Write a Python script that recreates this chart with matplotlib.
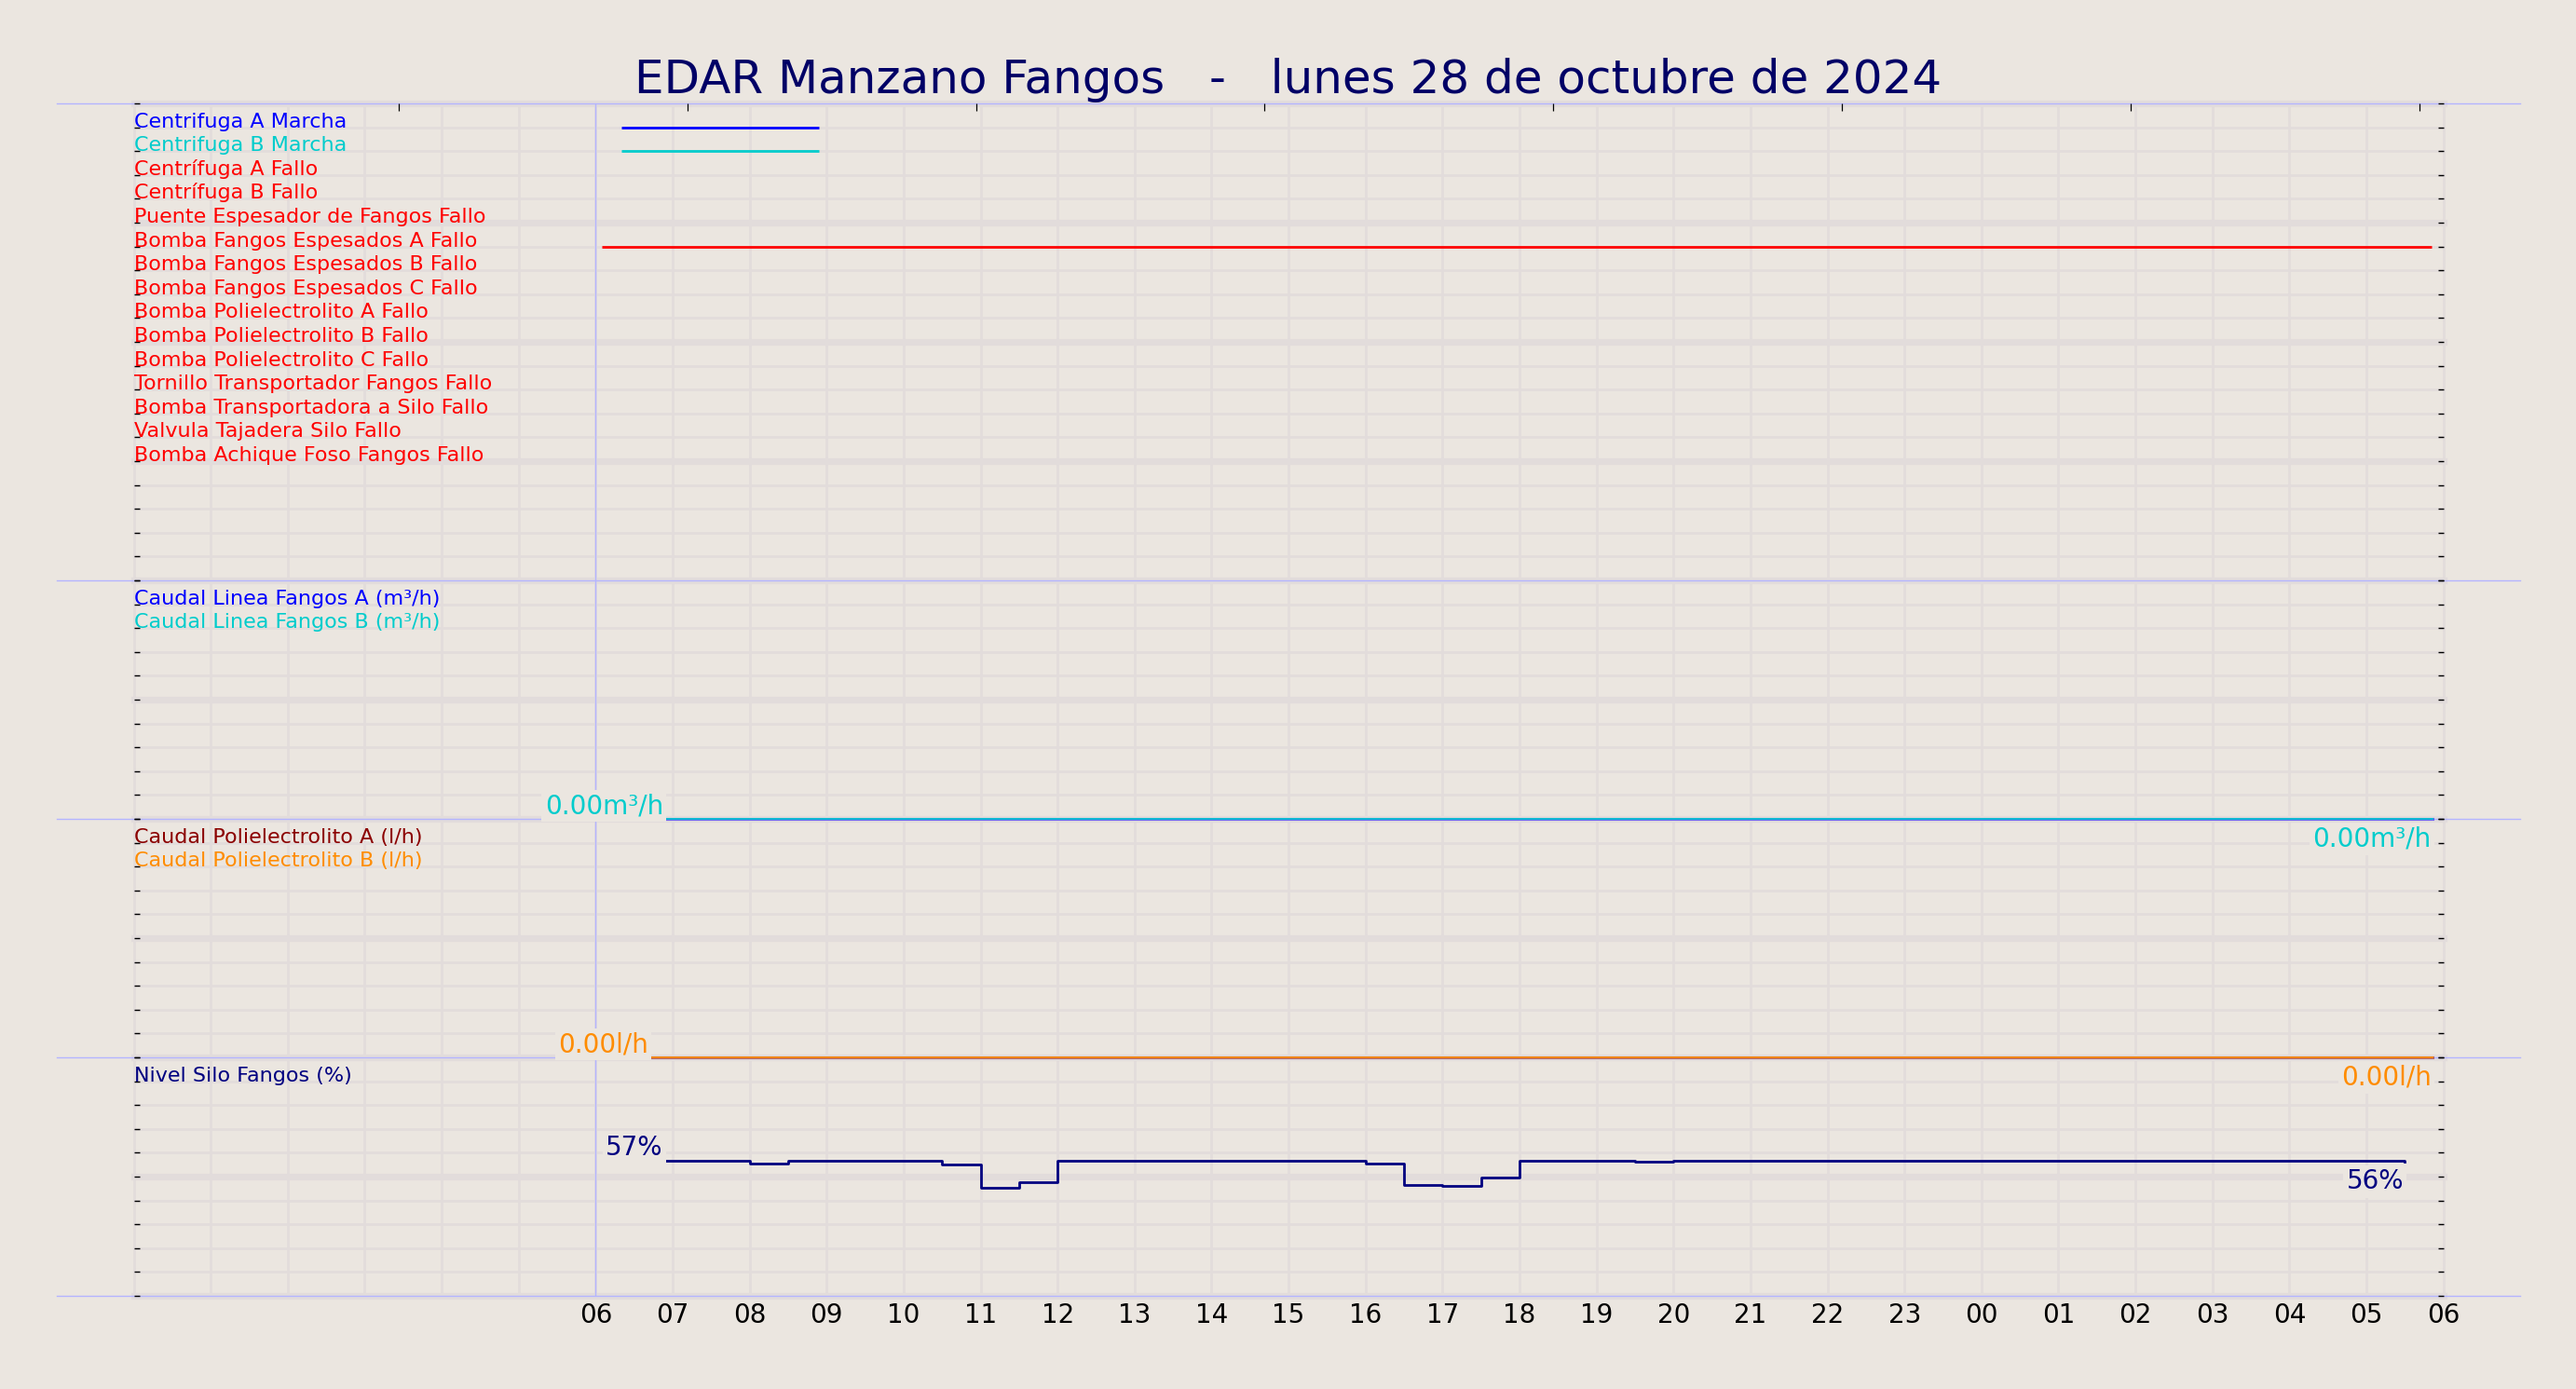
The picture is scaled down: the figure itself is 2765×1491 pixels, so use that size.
"""Panel de señales EDAR Manzano Fangos (28/10/2024), de 06 a 06."""

import matplotlib

matplotlib.use("Agg")
import matplotlib.pyplot as plt
import matplotlib.transforms as mtransforms

TITLE = "EDAR Manzano Fangos   -   lunes 28 de octubre de 2024"

# eje x en horas desde las 00:00 del día 28 (30 h: hasta las 06 del día 29)
HOUR_TICKS = list(range(6, 31))
HOUR_LABELS = ["06", "07", "08", "09", "10", "11", "12", "13", "14", "15", "16",
               "17", "18", "19", "20", "21", "22", "23", "00", "01", "02", "03",
               "04", "05", "06"]
TOP_TICKS = [3.44, 7.19, 10.94, 14.69, 18.44, 22.19, 25.94, 29.69]

SIGNAL_NAMES = [
    "Centrifuga A Marcha",
    "Centrifuga B Marcha",
    "Centrífuga A Fallo",
    "Centrífuga B Fallo",
    "Puente Espesador de Fangos Fallo",
    "Bomba Fangos Espesados A Fallo",
    "Bomba Fangos Espesados B Fallo",
    "Bomba Fangos Espesados C Fallo",
    "Bomba Polielectrolito A Fallo",
    "Bomba Polielectrolito B Fallo",
    "Bomba Polielectrolito C Fallo",
    "Tornillo Transportador Fangos Fallo",
    "Bomba Transportadora a Silo Fallo",
    "Valvula Tajadera Silo Fallo",
    "Bomba Achique Foso Fangos Fallo",
]
# intervalos activos (inicio, fin) en horas, por índice de señal
SIGNAL_ON = {
    0: [(6.33, 8.90)],
    1: [(6.33, 8.90)],
    5: [(6.08, 29.85)],
}

FLOW_NAMES = ["Caudal Linea Fangos A (m³/h)", "Caudal Linea Fangos B (m³/h)"]
FLOW_HOURS = [6.10, 29.86]
FLOW_A = [0.0, 0.0]
FLOW_B = [0.0, 0.0]

POLY_NAMES = ["Caudal Polielectrolito A (l/h)", "Caudal Polielectrolito B (l/h)"]
POLY_HOURS = [6.10, 29.86]
POLY_A = [0.0, 0.0]
POLY_B = [0.0, 0.0]

LEVEL_NAME = "Nivel Silo Fangos (%)"
LEVEL_HOURS = [6.10, 8.0, 8.5, 10.5, 11.0, 11.5, 12.0, 16.0, 16.5, 17.0, 17.5,
               18.0, 19.5, 20.0, 29.5]
LEVEL_PCT = [56.6, 55.4, 56.5, 55.1, 45.2, 47.6, 56.5, 55.4, 46.5, 46.0, 49.5,
             56.5, 56.1, 56.5, 56.4]

BG = "#ebe6e0"
GRID = "#e2dcdb"
LAVENDER = "#b4b4ff"
BLUE, CYAN, RED = "#0000ff", "#00cccc", "#ff0000"
DARKRED, ORANGE, NAVY = "#8b0000", "#ff8c00", "#000080"

W_PX, H_PX = 2765, 1491
LEFT_PX, RIGHT_PX = 143.5, 2622.7
TOP_PX, BOTTOM_PX = 111, 1391
SEP_X = (61 / W_PX, 2705 / W_PX)
PANEL_ROWS = [20, 10, 10, 10]
LABEL_FS = 16
VALUE_FS = 20


def _box():
    return dict(boxstyle="square,pad=0.12", facecolor=BG, edgecolor="none")


def _names(ax, names, colors, nrows):
    for j, (name, col) in enumerate(zip(names, colors)):
        ax.text(0.0, 1 - (j + 1) / nrows, name, transform=ax.transAxes,
                color=col, fontsize=LABEL_FS, ha="left", va="baseline", zorder=5)


def _end_labels(ax, hours, values, fmt, color, start_at):
    ax.annotate(fmt.format(values[0]), (start_at, values[0]), ha="center",
                va="bottom", color=color, fontsize=VALUE_FS, bbox=_box(), zorder=6)
    ax.annotate(fmt.format(values[-1]), (hours[-1], values[-1]),
                xytext=(-1.0, -5.5), textcoords="offset points", ha="right",
                va="top", color=color, fontsize=VALUE_FS, bbox=_box(), zorder=6)


def main():
    fig = plt.figure(figsize=(W_PX / 100, H_PX / 100), dpi=100, facecolor=BG)
    left = LEFT_PX / W_PX
    width = (RIGHT_PX - LEFT_PX) / W_PX
    total_rows = sum(PANEL_ROWS)
    row_h = (BOTTOM_PX - TOP_PX) / total_rows / H_PX

    # fondo común: rejilla, separadores y marca de las 06
    bg = fig.add_axes([left, 1 - BOTTOM_PX / H_PX, width, total_rows * row_h])
    bg.set_facecolor("none")
    bg.set_xlim(0, 30)
    bg.set_ylim(total_rows, 0)
    bg.axis("off")
    for h in range(31):
        bg.axvline(h, color=GRID, lw=1.9, clip_on=False, zorder=1)
    for r in range(total_rows + 1):
        bg.axhline(r, color=GRID, lw=5.2 if r % 5 == 0 else 1.9,
                   clip_on=False, zorder=1)
    bg.axvline(6, color=LAVENDER, lw=1.0, zorder=2)
    sep_tr = mtransforms.blended_transform_factory(fig.transFigure, bg.transData)
    r = 0
    for rows in [0] + PANEL_ROWS:
        r += rows
        bg.plot(SEP_X, [r, r], transform=sep_tr, color=LAVENDER, lw=1.0,
                clip_on=False, zorder=2)

    axes = []
    top = 1 - TOP_PX / H_PX
    for rows in PANEL_ROWS:
        h = rows * row_h
        ax = fig.add_axes([left, top - h, width, h])
        top -= h
        ax.set_facecolor("none")
        ax.set_xlim(0, 30)
        for s in ax.spines.values():
            s.set_visible(False)
        ax.tick_params(axis="y", which="both", direction="in", length=4.2,
                       width=1.0, left=True, right=True, labelleft=False,
                       colors="black")
        ax.tick_params(axis="x", bottom=False, labelbottom=False)
        axes.append(ax)
    ax_sig, ax_flow, ax_poly, ax_lvl = axes

    # señales digitales
    ax_sig.set_ylim(PANEL_ROWS[0], 0)
    ax_sig.set_yticks(range(PANEL_ROWS[0] + 1))
    colors = [BLUE, CYAN] + [RED] * (len(SIGNAL_NAMES) - 2)
    _names(ax_sig, SIGNAL_NAMES, colors, PANEL_ROWS[0])
    for i, spans in SIGNAL_ON.items():
        for a, b in spans:
            ax_sig.hlines(i + 1, a, b, color=colors[i], lw=2.0, zorder=3)
    ax_sig.set_xticks(TOP_TICKS)
    ax_sig.tick_params(axis="x", top=True, bottom=False, labeltop=False,
                       labelbottom=False, direction="in", length=6, width=0.9)

    # caudal línea de fangos
    ax_flow.set_ylim(0, 50)
    ax_flow.set_yticks(range(0, 51, 5))
    _names(ax_flow, FLOW_NAMES, [BLUE, CYAN], PANEL_ROWS[1])
    ax_flow.plot(FLOW_HOURS, FLOW_A, color=BLUE, lw=2.2, alpha=0.5,
                 clip_on=False, zorder=3)
    ax_flow.plot(FLOW_HOURS, FLOW_B, color=CYAN, lw=1.3, alpha=0.9,
                 clip_on=False, zorder=3)
    _end_labels(ax_flow, FLOW_HOURS, FLOW_B, "{:.2f}m³/h", CYAN, 6.11)

    # caudal polielectrolito
    ax_poly.set_ylim(0, 500)
    ax_poly.set_yticks(range(0, 501, 50))
    _names(ax_poly, POLY_NAMES, [DARKRED, ORANGE], PANEL_ROWS[2])
    ax_poly.plot(POLY_HOURS, POLY_A, color=DARKRED, lw=2.2, alpha=0.5,
                 clip_on=False, zorder=3)
    ax_poly.plot(POLY_HOURS, POLY_B, color=ORANGE, lw=1.3, alpha=0.9,
                 clip_on=False, zorder=3)
    _end_labels(ax_poly, POLY_HOURS, POLY_B, "{:.2f}l/h", ORANGE, 6.10)

    # nivel del silo
    ax_lvl.set_ylim(0, 100)
    ax_lvl.set_yticks(range(0, 101, 10))
    _names(ax_lvl, [LEVEL_NAME], [NAVY], PANEL_ROWS[3])
    ax_lvl.step(LEVEL_HOURS, LEVEL_PCT, where="post", color=NAVY, lw=2.0,
                zorder=3)
    _end_labels(ax_lvl, LEVEL_HOURS, LEVEL_PCT, "{:.0f}%", NAVY, 6.50)

    ax_lvl.set_xticks(HOUR_TICKS)
    ax_lvl.set_xticklabels(HOUR_LABELS)
    ax_lvl.tick_params(axis="x", bottom=True, labelbottom=True, length=0,
                       pad=5.4, labelsize=20, colors="black")

    fig.text(0.5, 1 - 100 / H_PX, TITLE, ha="center", va="baseline",
             fontsize=36, color="#000066")

    fig.savefig("out.png", dpi=100, facecolor=BG)
    plt.close(fig)


if __name__ == "__main__":
    main()
